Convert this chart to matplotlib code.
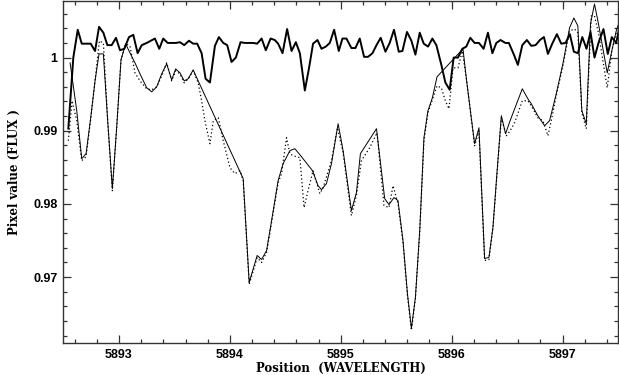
import matplotlib
matplotlib.use("Agg")
import matplotlib.pyplot as plt
from matplotlib.ticker import MultipleLocator, FixedLocator

# thick spectrum (upper, near continuum)
wl_a = [5892.543, 5892.588, 5892.628, 5892.664, 5892.703, 5892.745, 5892.784, 5892.820,
        5892.859, 5892.895, 5892.934, 5892.973, 5893.009, 5893.048, 5893.090, 5893.129,
        5893.168, 5893.205, 5893.250, 5893.288, 5893.324, 5893.363, 5893.399, 5893.439,
        5893.475, 5893.514, 5893.550, 5893.588, 5893.631, 5893.669, 5893.705, 5893.745,
        5893.781, 5893.820, 5893.865, 5893.901, 5893.940, 5893.976, 5894.015, 5894.054,
        5894.096, 5894.135, 5894.174, 5894.210, 5894.246, 5894.286, 5894.324, 5894.367,
        5894.405, 5894.435, 5894.475, 5894.516, 5894.556, 5894.595, 5894.631, 5894.676,
        5894.714, 5894.750, 5894.790, 5894.826, 5894.865, 5894.901, 5894.940, 5894.982,
        5895.015, 5895.051, 5895.096, 5895.132, 5895.171, 5895.210, 5895.246, 5895.286,
        5895.322, 5895.360, 5895.403, 5895.441, 5895.480, 5895.523, 5895.556, 5895.597,
        5895.637, 5895.673, 5895.712, 5895.748, 5895.787, 5895.826, 5895.862, 5895.907,
        5895.943, 5895.982, 5896.018, 5896.057, 5896.096, 5896.132, 5896.168, 5896.207,
        5896.246, 5896.288, 5896.327, 5896.367, 5896.403, 5896.441, 5896.484, 5896.516,
        5896.561, 5896.597, 5896.637, 5896.678, 5896.718, 5896.757, 5896.796, 5896.832,
        5896.868, 5896.907, 5896.949, 5896.988, 5897.027, 5897.066, 5897.102, 5897.138,
        5897.178, 5897.216, 5897.252, 5897.288, 5897.324, 5897.369, 5897.408, 5897.444,
        5897.484, 5897.514]
flux_a = [0.9903, 1.0000, 1.0038, 1.0019, 1.0019, 1.0019, 1.0009, 1.0042,
          1.0034, 1.0017, 1.0017, 1.0027, 1.0010, 1.0012, 1.0028, 1.0031,
          1.0006, 1.0017, 1.0020, 1.0023, 1.0026, 1.0012, 1.0026, 1.0020,
          1.0020, 1.0020, 1.0021, 1.0017, 1.0023, 1.0019, 1.0019, 1.0006,
          0.9971, 0.9966, 1.0016, 1.0028, 1.0020, 1.0017, 0.9994, 1.0000,
          1.0021, 1.0020, 1.0020, 1.0020, 1.0019, 1.0026, 1.0010, 1.0026,
          1.0024, 1.0019, 1.0006, 1.0039, 1.0009, 1.0021, 1.0006, 0.9955,
          0.9986, 1.0019, 1.0024, 1.0012, 1.0015, 1.0020, 1.0038, 1.0009,
          1.0026, 1.0026, 1.0013, 1.0013, 1.0026, 1.0001, 1.0001, 1.0006,
          1.0017, 1.0027, 1.0008, 1.0020, 1.0038, 1.0008, 1.0009, 1.0035,
          1.0023, 1.0004, 1.0034, 1.0019, 1.0015, 1.0026, 1.0017, 0.9990,
          0.9966, 0.9956, 1.0000, 1.0000, 1.0012, 1.0015, 1.0027, 1.0020,
          1.0020, 1.0012, 1.0034, 1.0006, 1.0020, 1.0024, 1.0020, 1.0020,
          1.0004, 0.9990, 1.0017, 1.0024, 1.0016, 1.0017, 1.0024, 1.0028,
          1.0005, 1.0019, 1.0032, 1.0019, 1.0020, 1.0032, 1.0008, 1.0006,
          1.0028, 1.0012, 1.0035, 1.0000, 1.0020, 1.0039, 1.0005, 1.0028,
          1.0020, 1.0043]

# thin solid spectrum
wl_b = [5892.559, 5892.619, 5892.664, 5892.703, 5892.745, 5892.784, 5892.820, 5892.859,
        5892.898, 5892.940, 5892.979, 5893.018, 5893.060, 5893.099, 5893.144, 5893.189,
        5893.250, 5893.295, 5893.340, 5893.385, 5893.430, 5893.475, 5893.511, 5893.550,
        5893.588, 5893.624, 5893.669, 5893.714, 5894.120, 5894.174, 5894.246, 5894.286,
        5894.331, 5894.376, 5894.435, 5894.480, 5894.541, 5894.586, 5894.631, 5894.745,
        5894.795, 5894.826, 5894.871, 5894.916, 5894.976, 5895.021, 5895.096, 5895.141,
        5895.177, 5895.322, 5895.396, 5895.435, 5895.480, 5895.516, 5895.561, 5895.601,
        5895.637, 5895.673, 5895.712, 5895.750, 5895.786, 5895.826, 5895.868, 5896.102,
        5896.135, 5896.171, 5896.207, 5896.246, 5896.297, 5896.336, 5896.372, 5896.410,
        5896.448, 5896.486, 5896.527, 5896.568, 5896.637, 5896.687, 5896.718, 5896.777,
        5896.838, 5896.883, 5896.943, 5897.003, 5897.063, 5897.102, 5897.138, 5897.174,
        5897.214, 5897.252, 5897.288, 5897.324, 5897.403, 5897.444, 5897.484, 5897.514]
flux_b = [0.99928, 0.99273, 0.98619, 0.98687, 0.99178, 0.99682, 1.00050, 1.00050,
          0.99137, 0.98209, 0.99041, 0.99969, 1.00187, 1.00064, 0.99928, 0.99778,
          0.99587, 0.99532, 0.99600, 0.99778, 0.99914, 0.99696, 0.99846, 0.99791,
          0.99682, 0.99710, 0.99832, 0.99682, 0.98346, 0.96928, 0.97296, 0.97241,
          0.97364, 0.97773, 0.98319, 0.98550, 0.98728, 0.98755, 0.98673, 0.98455,
          0.98250, 0.98196, 0.98278, 0.98550, 0.99096, 0.98728, 0.97909, 0.98155,
          0.98687, 0.99028, 0.98073, 0.97991, 0.98087, 0.98046, 0.97500, 0.96778,
          0.96300, 0.96723, 0.97636, 0.98905, 0.99273, 0.99450, 0.99737, 1.00119,
          0.99682, 0.99246, 0.98823, 0.99041, 0.97255, 0.97269, 0.97678, 0.98455,
          0.99205, 0.98960, 0.99137, 0.99300, 0.99573, 0.99437, 0.99369, 0.99205,
          0.99069, 0.99137, 0.99505, 0.99914, 1.00405, 1.00541, 1.00432, 0.99273,
          0.99096, 1.00460, 1.00732, 1.00460, 0.99791, 1.00091, 1.00364, 1.00500]

# dotted spectrum
wl_c = [5892.543, 5892.577, 5892.619, 5892.664, 5892.703, 5892.745, 5892.784, 5892.823,
        5892.859, 5892.898, 5892.940, 5892.979, 5893.018, 5893.060, 5893.099, 5893.144,
        5893.189, 5893.250, 5893.295, 5893.340, 5893.385, 5893.430, 5893.475, 5893.511,
        5893.550, 5893.588, 5893.624, 5893.669, 5893.714, 5893.745, 5893.775, 5893.820,
        5893.850, 5893.895, 5893.940, 5894.000, 5894.045, 5894.090, 5894.120, 5894.174,
        5894.246, 5894.286, 5894.331, 5894.376, 5894.435, 5894.466, 5894.511, 5894.541,
        5894.570, 5894.631, 5894.669, 5894.705, 5894.750, 5894.811, 5894.841, 5894.916,
        5894.970, 5895.021, 5895.096, 5895.141, 5895.186, 5895.261, 5895.327, 5895.390,
        5895.435, 5895.471, 5895.516, 5895.561, 5895.601, 5895.637, 5895.673, 5895.712,
        5895.750, 5895.786, 5895.832, 5895.868, 5895.907, 5895.943, 5895.976, 5896.012,
        5896.057, 5896.096, 5896.135, 5896.171, 5896.207, 5896.246, 5896.297, 5896.336,
        5896.372, 5896.410, 5896.448, 5896.493, 5896.527, 5896.568, 5896.637, 5896.687,
        5896.718, 5896.777, 5896.823, 5896.868, 5896.898, 5896.943, 5897.003, 5897.063,
        5897.108, 5897.138, 5897.174, 5897.214, 5897.259, 5897.288, 5897.324, 5897.403,
        5897.444, 5897.484]
flux_c = [0.98864, 0.99410, 0.99137, 0.98591, 0.98646, 0.99164, 0.99682, 1.00228,
          1.00200, 0.99137, 0.98182, 0.99041, 0.99969, 1.00187, 1.00160, 0.99791,
          0.99682, 0.99573, 0.99560, 0.99600, 0.99750, 0.99928, 0.99682, 0.99819,
          0.99778, 0.99655, 0.99710, 0.99819, 0.99655, 0.99410, 0.99137, 0.98823,
          0.99137, 0.99178, 0.98864, 0.98496, 0.98414, 0.98455, 0.98319, 0.96900,
          0.97268, 0.97200, 0.97337, 0.97746, 0.98291, 0.98414, 0.98905, 0.98687,
          0.98659, 0.98632, 0.97950, 0.98182, 0.98455, 0.98141, 0.98223, 0.98591,
          0.99041, 0.98700, 0.97841, 0.98114, 0.98591, 0.98768, 0.98973, 0.97978,
          0.97950, 0.98250, 0.98005, 0.97473, 0.96750, 0.96273, 0.96709, 0.97609,
          0.98864, 0.99246, 0.99450, 0.99614, 0.99587, 0.99410, 0.99300, 0.99860,
          0.99860, 1.00091, 0.99682, 0.99246, 0.98796, 0.99000, 0.97228, 0.97241,
          0.97664, 0.98428, 0.99178, 0.98932, 0.99000, 0.99110, 0.99410, 0.99410,
          0.99341, 0.99178, 0.99137, 0.98932, 0.99137, 0.99478, 0.99887, 1.00364,
          1.00391, 1.00337, 0.99246, 0.99028, 1.00569, 1.00569, 1.00337, 0.99587,
          1.00091, 1.00337]

x_major = [5893, 5894, 5895, 5896, 5897]
y_major = [0.97, 0.98, 0.99, 1.0]
y_labels = ["0.97", "0.98", "0.99", "1"]

fig = plt.figure(figsize=(6.19, 3.75), dpi=100)
ax = fig.add_axes([63 / 619, 1 - 343 / 375, 555 / 619, 342 / 375])

ax.plot(wl_c, flux_c, color="black", lw=0.9, linestyle=(0, (1, 2)))
ax.plot(wl_b, flux_b, color="black", lw=0.7)
ax.plot(wl_a, flux_a, color="black", lw=1.4)

ax.set_xlim(5892.495, 5897.50)
ax.set_ylim(0.9610, 1.00773)

ax.xaxis.set_major_locator(FixedLocator(x_major))
ax.xaxis.set_minor_locator(MultipleLocator(0.2))
ax.yaxis.set_major_locator(FixedLocator(y_major))
ax.set_yticklabels(y_labels)
ax.yaxis.set_minor_locator(MultipleLocator(0.002))
ax.set_xticklabels([str(v) for v in x_major])

ax.tick_params(which="both", direction="in", top=True, right=True, color="#333333", width=0.9)
ax.tick_params(which="major", length=6, labelsize=9, pad=4)
ax.tick_params(which="minor", length=3.2)
for lab in ax.get_xticklabels() + ax.get_yticklabels():
    lab.set_fontfamily("Liberation Sans")
    lab.set_fontweight("bold")
for s in ax.spines.values():
    s.set_color("#333333")
    s.set_linewidth(1.0)

ax.set_xlabel("Position  (WAVELENGTH)", fontsize=8.5, family="DejaVu Serif",
              fontweight="bold", labelpad=1)
ax.set_ylabel("Pixel value (FLUX )", fontsize=8.5, family="DejaVu Serif",
              fontweight="bold", labelpad=9)

fig.savefig("out.png", dpi=100)
